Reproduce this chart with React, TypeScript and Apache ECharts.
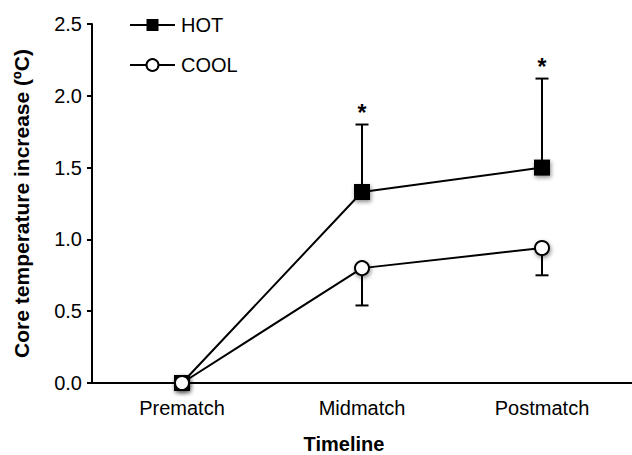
import React, { useEffect, useRef } from "react";
import * as echarts from "echarts";

const categories = ["Prematch", "Midmatch", "Postmatch"];
const hotMean = [0, 1.33, 1.5];
const hotUpper = [0, 1.8, 2.12];
const coolMean = [0, 0.8, 0.94];
const coolLower = [0, 0.54, 0.75];
const significance = ["", "*", "*"];
const yTicks = [0, 0.5, 1.0, 1.5, 2.0, 2.5];

const FONT = '"Liberation Sans", Arial, Helvetica, sans-serif';

export default function App() {
  const ref = useRef<HTMLDivElement>(null);

  useEffect(() => {
    if (!ref.current) return;
    const chart = echarts.init(ref.current, undefined, { renderer: "svg" });

    const hotErr = categories.map((_, i) => [i, hotMean[i], hotUpper[i], i]);
    const coolErr = categories.map((_, i) => [i, coolLower[i], coolMean[i], i]);

    const errRender = (showStar: boolean) => (params: any, api: any) => {
      const idx = api.value(0);
      const lo = api.coord([idx, api.value(1)]);
      const hi = api.coord([idx, api.value(2)]);
      if (Math.abs(lo[1] - hi[1]) < 1) return { type: "group", children: [] };
      const capHalf = 6.5;
      const capY = showStar ? hi[1] : lo[1];
      const children: any[] = [
        {
          type: "line",
          shape: { x1: lo[0], y1: lo[1], x2: hi[0], y2: hi[1] },
          style: { stroke: "#000", lineWidth: 2 },
        },
        {
          type: "line",
          shape: { x1: lo[0] - capHalf, y1: capY, x2: lo[0] + capHalf, y2: capY },
          style: { stroke: "#000", lineWidth: 2 },
        },
      ];
      const star = significance[api.value(3)];
      if (showStar && star) {
        children.push({
          type: "text",
          x: hi[0],
          y: capY - 12,
          style: {
            text: star,
            fill: "#000",
            font: `bold 23px ${FONT}`,
            align: "center",
            verticalAlign: "middle",
          },
        });
      }
      return { type: "group", children };
    };

    const markerShadow = {
      shadowBlur: 4,
      shadowColor: "rgba(0,0,0,0.45)",
      shadowOffsetX: 1,
      shadowOffsetY: 2,
    };

    chart.setOption({
      animation: false,
      backgroundColor: "#fff",
      textStyle: { fontFamily: FONT },
      grid: {
        left: 92,
        right: 0,
        top: 24,
        bottom: 72,
        containLabel: false,
        outerBoundsMode: "none",
      },
      legend: {
        orient: "vertical",
        left: 129,
        top: 15,
        padding: 0,
        itemWidth: 45,
        itemHeight: 15,
        itemGap: 20,
        textStyle: { fontSize: 20, color: "#000", fontFamily: FONT, padding: [0, 0, 0, 1] },
        data: ["HOT", "COOL"],
      },
      xAxis: {
        type: "category",
        data: categories,
        boundaryGap: true,
        name: "Timeline",
        nameLocation: "middle",
        nameGap: 51,
        nameTextStyle: {
          fontSize: 20,
          fontWeight: "bold",
          color: "#000",
          fontFamily: FONT,
          padding: [0, 36, 0, 0],
        },
        axisLine: { lineStyle: { color: "#000", width: 2 } },
        axisTick: { alignWithLabel: true, length: 4, lineStyle: { color: "#000", width: 2 } },
        axisLabel: { fontSize: 20, color: "#000", margin: 15, fontFamily: FONT },
        splitLine: { show: false },
      },
      yAxis: {
        type: "value",
        min: 0,
        max: 2.5,
        interval: 0.5,
        name: "Core temperature increase (ºC)",
        nameLocation: "middle",
        nameGap: 60,
        nameRotate: 90,
        nameTextStyle: { fontSize: 21, fontWeight: "bold", color: "#000", fontFamily: FONT },
        axisLine: { show: true, lineStyle: { color: "#000", width: 2 } },
        axisTick: { show: true, length: 5, lineStyle: { color: "#000", width: 2 } },
        axisLabel: {
          fontSize: 20,
          color: "#000",
          margin: 10,
          fontFamily: FONT,
          formatter: (v: number) => (yTicks.includes(v) ? v.toFixed(1) : ""),
        },
        splitLine: { show: false },
      },
      series: [
        {
          type: "custom",
          name: "hotErr",
          renderItem: errRender(true),
          data: hotErr,
          z: 1,
          silent: true,
        },
        {
          type: "custom",
          name: "coolErr",
          renderItem: errRender(false),
          data: coolErr,
          z: 1,
          silent: true,
        },
        {
          type: "line",
          name: "HOT",
          data: hotMean,
          symbol: "rect",
          symbolSize: 16,
          lineStyle: { color: "#000", width: 2 },
          itemStyle: { color: "#000", borderColor: "#000", borderWidth: 0, ...markerShadow },
          z: 3,
        },
        {
          type: "line",
          name: "COOL",
          data: coolMean,
          symbol: "circle",
          symbolSize: 14,
          lineStyle: { color: "#000", width: 2 },
          itemStyle: { color: "#fff", borderColor: "#000", borderWidth: 2, ...markerShadow },
          z: 4,
        },
      ],
    });

    return () => chart.dispose();
  }, []);

  return (
    <div
      ref={ref}
      style={{ position: "fixed", left: 0, top: 0, width: 632, height: 455 }}
    />
  );
}
